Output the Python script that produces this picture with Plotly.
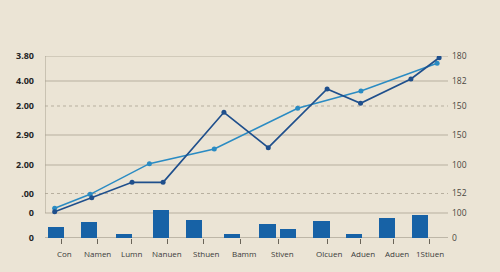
import plotly.graph_objects as go

# ---- data (x in 0..100 horizontal units, y in chart units) ----
tick_x = [4.2, 13.1, 21.5, 30.3, 39.3, 48.5, 57.9, 70.0, 78.3, 86.5, 95.4]
label_x = [4.8, 13.1, 21.5, 30.3, 40.1, 49.5, 58.9, 70.5, 79.0, 87.3, 95.5]
categories = ["Con", "Namen", "Lumn", "Nanuen", "Sthuen", "Bamm", "Stiven",
              "Olcuen", "Aduen", "Aduen", "1Stiuen"]

bar_x = [2.8, 11.0, 19.6, 28.7, 37.0, 46.5, 55.2, 60.3, 68.6, 76.7, 84.8, 93.1]
bar_values = [45, 63, 16, 111, 73, 17, 55, 37, 67, 15, 79, 91]

dark_x = [2.4, 11.6, 21.6, 29.3, 44.4, 55.4, 70.0, 78.3, 90.8, 97.8]
dark_y = [26.3, 40.3, 55.7, 55.7, 125.7, 90.3, 149.0, 134.7, 159.0, 180.3]

light_x = [2.4, 11.2, 25.9, 42.0, 62.7, 78.4, 97.3]
light_y = [29.7, 43.7, 74.3, 89.0, 129.7, 147.0, 174.7]

grid_y = [182, 157, 132, 103, 73, 44.5, 25, 0]
grid_dashed = [False, False, True, False, False, True, False, False]
left_labels = ["3.80", "4.00", "2.00", "2.90", "2.00", ".00", "0", "0"]
right_labels = ["180", "182", "150", "150", "100", "152", "100", "0"]

Y_MAX = 182
BAR_SCALE = 4  # right-axis units per left-axis unit

BG = "#ebe4d5"
DARK = "#1f4f8c"
LIGHT = "#2a8bc3"
BAR = "#1762a6"
GRID = "#b7af9f"

fig = go.Figure()

fig.add_trace(go.Bar(
    x=bar_x, y=bar_values, width=4.0, marker=dict(color=BAR, line=dict(width=0)),
    yaxis="y2", showlegend=False, hoverinfo="skip"))

fig.add_trace(go.Scatter(
    x=light_x, y=light_y, mode="lines+markers",
    line=dict(color=LIGHT, width=1.5), marker=dict(color=LIGHT, size=5),
    showlegend=False))

fig.add_trace(go.Scatter(
    x=dark_x, y=dark_y, mode="lines+markers",
    line=dict(color=DARK, width=1.7), marker=dict(color=DARK, size=5),
    showlegend=False))

shapes = []
for gy, dashed in zip(grid_y, grid_dashed):
    x0 = -1.2 if gy in (25, 0) else 0
    shapes.append(dict(
        type="line", xref="x", yref="y", x0=x0, x1=100, y0=gy, y1=gy,
        line=dict(color="#8f887a" if gy == 0 else GRID, width=1.2 if gy == 0 else 1,
                  dash="3px,3px" if dashed else "solid"),
        layer="below"))
shapes.append(dict(type="line", xref="x", yref="y", x0=0, x1=0, y0=25, y1=Y_MAX + 1,
                   line=dict(color="#a79f90", width=1), layer="below"))

annotations = []
for lx, txt in zip(label_x, categories):
    annotations.append(dict(
        x=lx, y=-0.083, xref="x", yref="paper", text=txt, showarrow=False,
        font=dict(family="Open Sans, DejaVu Sans, sans-serif", size=8, color="#3a3a3a"),
        xanchor="center", yanchor="middle"))

fig.update_layout(
    width=500, height=272,
    margin=dict(l=45, r=52, t=56, b=34),
    paper_bgcolor=BG, plot_bgcolor=BG,
    bargap=0, shapes=shapes, annotations=annotations,
    xaxis=dict(range=[0, 100], showgrid=False, zeroline=False, showline=False,
               tickmode="array", tickvals=tick_x, ticktext=[""] * len(tick_x),
               ticks="outside", ticklen=5, tickwidth=1, tickcolor="#6a6458"),
    yaxis=dict(range=[0, Y_MAX], showgrid=False, zeroline=False, showline=False,
               tickmode="array", tickvals=grid_y, ticktext=left_labels,
               ticklabelstandoff=10,
               tickfont=dict(family="Open Sans, DejaVu Sans, sans-serif", size=9,
                             color="#262626", weight="bold")),
    yaxis2=dict(range=[0, Y_MAX * BAR_SCALE], overlaying="y", side="right",
                showgrid=False, zeroline=False, showline=False,
                tickmode="array", tickvals=[v * BAR_SCALE for v in grid_y],
                ticktext=right_labels, ticklabelstandoff=3,
                tickfont=dict(family="Open Sans, DejaVu Sans, sans-serif", size=8.5,
                              color="#4a4640")),
)

fig.write_html("out.html")
